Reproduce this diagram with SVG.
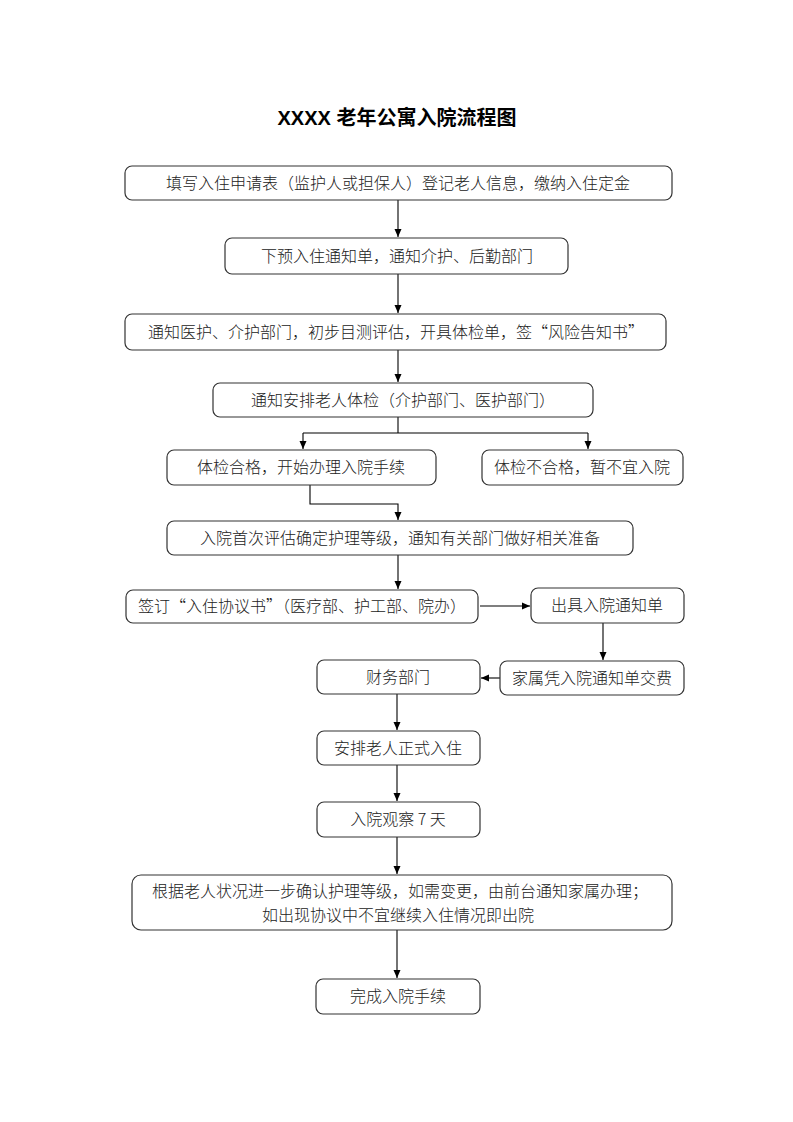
<svg xmlns="http://www.w3.org/2000/svg" width="793" height="1122" viewBox="0 0 793 1122">
<defs>
<style>
.b{fill:#fff;stroke:#333;stroke-width:1.2}
.t{font-family:"Noto Sans CJK SC","Liberation Serif",serif;font-size:16px;font-weight:300;fill:#222;text-anchor:middle}
.c{fill:none;stroke:#000;stroke-width:1.1}
.title{font-family:"Liberation Sans","Noto Sans CJK SC",sans-serif;font-size:20px;font-weight:bold;fill:#000;text-anchor:middle}
</style>
<marker id="ah" markerUnits="userSpaceOnUse" markerWidth="10" markerHeight="10" refX="9" refY="5" orient="auto">
<path d="M1,1.5 L9,5 L1,8.5 Z" fill="#000"/>
</marker>
</defs>
<rect width="793" height="1122" fill="#fff"/>
<text class="title" x="397" y="125">XXXX 老年公寓入院流程图</text>

<g id="connectors">
<path class="c" d="M398,200 V237" marker-end="url(#ah)"/>
<path class="c" d="M398,274 V313" marker-end="url(#ah)"/>
<path class="c" d="M398,350 V382" marker-end="url(#ah)"/>
<path class="c" d="M398,417 V433"/>
<path class="c" d="M303,433 H588"/>
<path class="c" d="M303,433 V449" marker-end="url(#ah)"/>
<path class="c" d="M588,433 V449" marker-end="url(#ah)"/>
<path class="c" d="M310,485 V504 H398 V520" marker-end="url(#ah)"/>
<path class="c" d="M398,555 V589" marker-end="url(#ah)"/>
<path class="c" d="M480,606 H530" marker-end="url(#ah)"/>
<path class="c" d="M603,623 V660" marker-end="url(#ah)"/>
<path class="c" d="M500,678 H481" marker-end="url(#ah)"/>
<path class="c" d="M397,694 V730" marker-end="url(#ah)"/>
<path class="c" d="M397,765 V801" marker-end="url(#ah)"/>
<path class="c" d="M397,837 V874" marker-end="url(#ah)"/>
<path class="c" d="M397,930 V978" marker-end="url(#ah)"/>
</g>

<g id="n1"><rect class="b" x="125" y="166" width="547" height="34" rx="7"/><text class="t" x="398" y="189">填写入住申请表（监护人或担保人）登记老人信息，缴纳入住定金</text></g>
<g id="n2"><rect class="b" x="225" y="238" width="343" height="36" rx="7"/><text class="t" x="397" y="262">下预入住通知单，通知介护、后勤部门</text></g>
<g id="n3"><rect class="b" x="125" y="314" width="541" height="36" rx="7"/><text class="t" x="396" y="338">通知医护、介护部门，初步目测评估，开具体检单，签“风险告知书”</text></g>
<g id="n4"><rect class="b" x="213" y="383" width="380" height="34" rx="7"/><text class="t" x="403" y="406">通知安排老人体检（介护部门、医护部门）</text></g>
<g id="n5"><rect class="b" x="167" y="450" width="269" height="35" rx="7"/><text class="t" x="301" y="473">体检合格，开始办理入院手续</text></g>
<g id="n6"><rect class="b" x="482" y="450" width="201" height="35" rx="7"/><text class="t" x="582" y="473">体检不合格，暂不宜入院</text></g>
<g id="n7"><rect class="b" x="167" y="521" width="466" height="34" rx="7"/><text class="t" x="400" y="544">入院首次评估确定护理等级，通知有关部门做好相关准备</text></g>
<g id="n8"><rect class="b" x="126" y="590" width="352" height="33" rx="7"/><text class="t" x="302" y="612">签订“入住协议书”（医疗部、护工部、院办）</text></g>
<g id="n9"><rect class="b" x="531" y="588" width="153" height="35" rx="7"/><text class="t" x="607" y="611">出具入院通知单</text></g>
<g id="n10"><rect class="b" x="500" y="661" width="184" height="34" rx="7"/><text class="t" x="592" y="684">家属凭入院通知单交费</text></g>
<g id="n11"><rect class="b" x="317" y="660" width="163" height="34" rx="7"/><text class="t" x="398" y="683">财务部门</text></g>
<g id="n12"><rect class="b" x="317" y="731" width="163" height="34" rx="7"/><text class="t" x="398" y="754">安排老人正式入住</text></g>
<g id="n13"><rect class="b" x="317" y="802" width="163" height="35" rx="7"/><text class="t" x="398" y="825">入院观察 7 天</text></g>
<g id="n14"><rect class="b" x="132" y="875" width="540" height="55" rx="9"/><text class="t" x="400" y="897">根据老人状况进一步确认护理等级，如需变更，由前台通知家属办理；</text><text class="t" x="398" y="921">如出现协议中不宜继续入住情况即出院</text></g>
<g id="n15"><rect class="b" x="316" y="979" width="164" height="35" rx="7"/><text class="t" x="398" y="1002">完成入院手续</text></g>
</svg>
